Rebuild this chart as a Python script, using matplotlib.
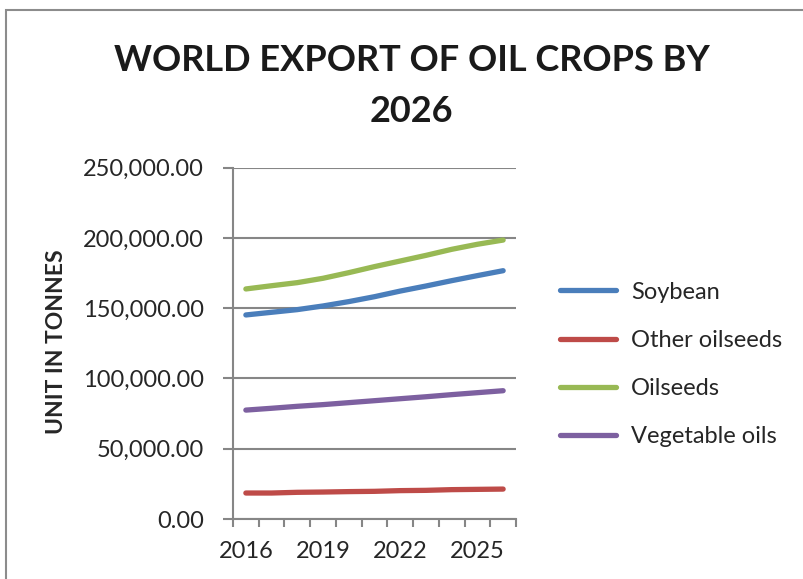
import numpy as np
import matplotlib
matplotlib.use("Agg")
import matplotlib.pyplot as plt
from matplotlib.patches import Rectangle
from matplotlib.ticker import FuncFormatter, FixedLocator

# data
years = [2016, 2017, 2018, 2019, 2020, 2021, 2022, 2023, 2024, 2025, 2026]
soybean = [145200, 147100, 149000, 151600, 154700, 158200, 162200, 165800, 169600, 173200, 176700]
other_oilseeds = [18500, 18500, 19000, 19200, 19500, 19700, 20200, 20400, 20900, 21100, 21300]
oilseeds = [163700, 166000, 168200, 171300, 175300, 179600, 183600, 187600, 191900, 195500, 198500]
vegetable_oils = [77500, 78800, 80200, 81400, 82800, 84200, 85600, 87000, 88500, 89900, 91300]
year_labels = ["2016", "2019", "2022", "2025"]

series = [
    ("Soybean", soybean, "#4A7EBB"),
    ("Other oilseeds", other_oilseeds, "#BE4B48"),
    ("Oilseeds", oilseeds, "#98B954"),
    ("Vegetable oils", vegetable_oils, "#7D60A0"),
]

plt.rcParams["font.family"] = ["Lato", "DejaVu Sans"]
grid_col = "#868686"
text_col = "#262626"

fig = plt.figure(figsize=(8.04, 5.79), dpi=100)
ax = fig.add_axes([0.2898, 0.1036, 0.352, 0.6068])

x = np.arange(len(years))
for name, vals, col in series:
    ax.plot(x, vals, color=col, lw=3.8, solid_capstyle="round", label=name)

ax.set_xlim(-0.5, len(years) - 0.5)
ax.set_ylim(0, 250000)
ax.set_yticks(np.arange(0, 250001, 50000))
ax.yaxis.set_major_formatter(FuncFormatter(lambda v, p: f"{v:,.2f}"))
ax.grid(axis="y", color=grid_col, lw=1.5)
ax.set_axisbelow(True)

# category boundaries get the tick marks, labels sit at every third year
ax.xaxis.set_major_locator(FixedLocator(np.arange(-0.5, len(years), 1.0)))
ax.xaxis.set_major_formatter(FuncFormatter(lambda v, p: ""))
label_pos = [years.index(int(y)) for y in year_labels]
ax.xaxis.set_minor_locator(FixedLocator(label_pos))
ax.xaxis.set_minor_formatter(FuncFormatter(lambda v, p: str(years[int(round(v))])))
ax.tick_params(axis="x", which="major", length=6, width=1.5, color=grid_col, direction="out")
ax.tick_params(axis="x", which="minor", length=0, pad=16, labelsize=17, labelcolor=text_col)
ax.tick_params(axis="y", length=7, width=1.5, color=grid_col, pad=14, labelsize=17, labelcolor=text_col)

for s in ["top", "right"]:
    ax.spines[s].set_visible(False)
for s in ["left", "bottom"]:
    ax.spines[s].set_color(grid_col)
    ax.spines[s].set_linewidth(1.5)

ax.set_ylabel("UNIT IN TONNES", fontsize=16.5, fontweight="bold", color=text_col)
ax.yaxis.set_label_coords(-0.585, 0.505)

fig.text(0.512, 0.896, "WORLD EXPORT OF OIL CROPS BY", ha="center", va="center",
         fontsize=26, fontweight="bold", color="#1a1a1a")
fig.text(0.512, 0.808, "2026", ha="center", va="center",
         fontsize=26, fontweight="bold", color="#1a1a1a")

leg = ax.legend(loc="center left", bbox_to_anchor=(1.08, 0.44), frameon=False,
                fontsize=17, handlelength=2.37, handletextpad=0.64, labelspacing=1.15)
for t in leg.get_texts():
    t.set_color(text_col)

# chart frame, cut off at the right and bottom edges
fig.patches.append(Rectangle((6 / 804, -0.1), 1.2, 1 - 10 / 579 + 0.1, transform=fig.transFigure,
                             fill=False, edgecolor="#8c8c8c", lw=1.5))

fig.savefig("out.png", dpi=100)
